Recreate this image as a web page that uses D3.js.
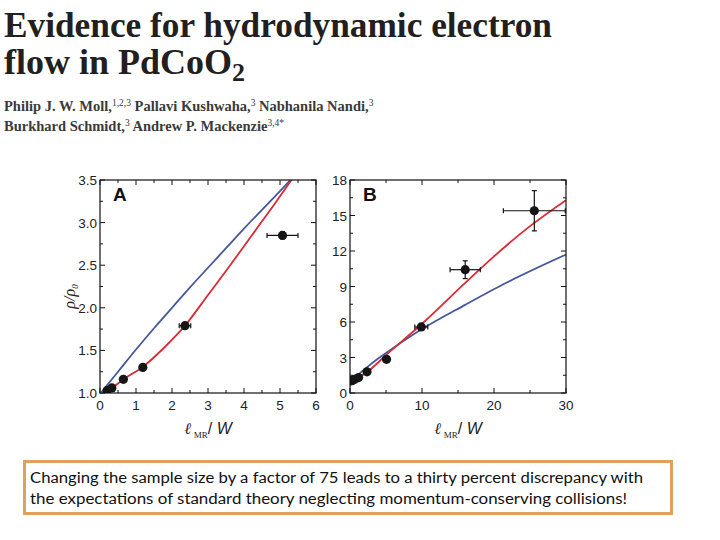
<!DOCTYPE html>
<html><head><meta charset="utf-8">
<script src="https://cdn.jsdelivr.net/npm/d3@7/dist/d3.min.js"></script>
<style>body{margin:0;background:#fff}svg{display:block}</style>
</head><body>
<svg id="c" width="720" height="540"></svg>
<script>
// ---- data ----
const titleLines = ["Evidence for hydrodynamic electron", "flow in PdCoO"];
const authors1 = [["Philip J. W. Moll,", "1,2,3"], [" Pallavi Kushwaha,", "3"], [" Nabhanila Nandi,", "3"]];
const authors2 = [["Burkhard Schmidt,", "3"], [" Andrew P. Mackenzie", "3,4*"]];
const caption = ["Changing the sample size by a factor of 75 leads to a thirty percent discrepancy with",
                 "the expectations of standard theory neglecting momentum-conserving collisions!"];

// measured points (rho/rho0 vs l_MR/W)
const ptX   = [0.20, 0.33, 0.65, 1.19, 2.36, 5.07, 9.90, 16.0, 25.6];
const ptY   = [1.03, 1.06, 1.16, 1.30, 1.79, 2.85, 5.58, 10.42, 15.40];
const ptXerr= [0,    0,    0,    0,    0.16, 0.43, 0.90, 2.10, 4.30];
const ptYerr= [0,    0,    0,    0,    0,    0.04, 0.15, 0.75, 1.70];

// model curves
const redAX  = [0.10, 0.33, 0.65, 1.20, 1.80, 2.36, 3.00, 3.60, 4.20, 4.80, 5.40];
const redAY  = [1.00, 1.06, 1.16, 1.31, 1.54, 1.79, 2.15, 2.49, 2.84, 3.19, 3.55];
const blueAX = [0.02, 0.50, 1.00, 1.50, 2.00, 2.50, 3.00, 3.50, 4.00, 4.50, 5.00, 5.40];
const blueAY = [1.00, 1.25, 1.51, 1.76, 2.00, 2.24, 2.47, 2.70, 2.93, 3.15, 3.37, 3.55];
const redBX  = [0.20, 2.40, 5.00, 10.0, 16.0, 20.0, 25.0, 30.0];
const redBY  = [1.00, 1.78, 3.20, 5.85, 9.30, 11.55, 14.10, 16.30];
const blueBX = [0.05, 2.00, 4.00, 6.00, 10.0, 16.0, 21.5, 30.0];
const blueBY = [1.00, 2.00, 2.95, 3.80, 5.40, 7.45, 9.25, 11.70];

const aXTicks = [0,1,2,3,4,5,6];
const aYTicks = [1.0,1.5,2.0,2.5,3.0,3.5];
const bXTicks = [0,10,20,30];
const bYTicks = [0,3,6,9,12,15,18];

// ---- drawing ----
const svg = d3.select("#c");
svg.append("rect").attr("width",720).attr("height",540).attr("fill","#fff");

// title
svg.append("text").attr("x",4).attr("y",37)
  .attr("font-family","'Liberation Serif','DejaVu Serif',serif").attr("font-weight","bold")
  .attr("font-size",36).attr("fill","#231f20")
  .attr("textLength",548).attr("lengthAdjust","spacingAndGlyphs").text(titleLines[0]);
const t2 = svg.append("text").attr("x",4).attr("y",74)
  .attr("font-family","'Liberation Serif','DejaVu Serif',serif").attr("font-weight","bold")
  .attr("font-size",36).attr("fill","#231f20");
t2.append("tspan").text(titleLines[1]);
t2.append("tspan").attr("dy",7).attr("font-size",26).text("2");

function authorLine(parts, y) {
  const t = svg.append("text").attr("x",4).attr("y",y)
    .attr("font-family","'Liberation Serif','DejaVu Serif',serif").attr("font-weight","bold")
    .attr("font-size",14.5).attr("fill","#3a3a3a");
  parts.forEach((p, i) => {
    t.append("tspan").attr("dy", i === 0 ? 0 : 5).text(p[0]);
    t.append("tspan").attr("dy",-5).attr("font-size",9.5).attr("font-weight","normal").text(p[1]);
  });
  return t;
}
authorLine(authors1, 111);
authorLine(authors2, 131);

function panel(cfg) {
  const x = d3.scaleLinear().domain(cfg.xd).range([cfg.x0, cfg.x1]);
  const y = d3.scaleLinear().domain(cfg.yd).range([cfg.y1, cfg.y0]);
  const g = svg.append("g");
  const clipId = "clip" + cfg.name;
  svg.append("clipPath").attr("id", clipId).append("rect")
    .attr("x",cfg.x0).attr("y",cfg.y0).attr("width",cfg.x1-cfg.x0).attr("height",cfg.y1-cfg.y0);

  // ticks (inward on all four sides), major & minor
  const tk = g.append("g").attr("stroke","#111").attr("stroke-width",1);
  const xMinor = d3.range(cfg.xd[0], cfg.xd[1]+1e-9, cfg.xMinorStep);
  const yMinor = d3.range(cfg.yd[0], cfg.yd[1]+1e-9, cfg.yMinorStep);
  xMinor.forEach(v => {
    const major = cfg.xTicks.some(t => Math.abs(t-v) < 1e-9);
    const L = major ? 5 : 3;
    tk.append("line").attr("x1",x(v)).attr("x2",x(v)).attr("y1",cfg.y1).attr("y2",cfg.y1-L);
    tk.append("line").attr("x1",x(v)).attr("x2",x(v)).attr("y1",cfg.y0).attr("y2",cfg.y0+L);
  });
  yMinor.forEach(v => {
    const major = cfg.yTicks.some(t => Math.abs(t-v) < 1e-9);
    const L = major ? 5 : 3;
    tk.append("line").attr("y1",y(v)).attr("y2",y(v)).attr("x1",cfg.x0).attr("x2",cfg.x0+L);
    tk.append("line").attr("y1",y(v)).attr("y2",y(v)).attr("x1",cfg.x1).attr("x2",cfg.x1-L);
  });

  // tick labels
  const lab = g.append("g").attr("font-family","'Liberation Sans',Arial,sans-serif")
    .attr("font-size",13.5).attr("fill","#222");
  cfg.xTicks.forEach(v => lab.append("text").attr("x",x(v)).attr("y",cfg.y1+17)
    .attr("text-anchor","middle").text(cfg.xFmt(v)));
  cfg.yTicks.forEach(v => lab.append("text").attr("x",cfg.x0-3).attr("y",y(v)+5)
    .attr("text-anchor","end").text(cfg.yFmt(v)));

  // curves
  const line = (xs, ys) => d3.line().x((d,i)=>x(xs[i])).y((d,i)=>y(ys[i])).curve(d3.curveMonotoneX)(xs);
  const cg = g.append("g").attr("clip-path", `url(#${clipId})`).attr("fill","none").attr("stroke-width",1.8);
  cg.append("path").attr("d", line(cfg.blueX, cfg.blueY)).attr("stroke","#44589e");
  cg.append("path").attr("d", line(cfg.redX, cfg.redY)).attr("stroke","#d92a35");

  // points with error bars
  const pg = g.append("g").attr("clip-path", `url(#${clipId})`);
  ptX.forEach((px, i) => {
    if (px > cfg.xd[1]) return;
    const cx = x(px), cy = y(ptY[i]);
    if (ptXerr[i] > 0) {
      const xa = x(px - ptXerr[i]), xb = x(px + ptXerr[i]);
      pg.append("line").attr("x1",xa).attr("x2",xb).attr("y1",cy).attr("y2",cy).attr("stroke","#111").attr("stroke-width",1.2);
      pg.append("line").attr("x1",xa).attr("x2",xa).attr("y1",cy-2.5).attr("y2",cy+2.5).attr("stroke","#111").attr("stroke-width",1.2);
      pg.append("line").attr("x1",xb).attr("x2",xb).attr("y1",cy-2.5).attr("y2",cy+2.5).attr("stroke","#111").attr("stroke-width",1.2);
    }
    if (ptYerr[i] > 0) {
      const ya = y(ptY[i] - ptYerr[i]), yb = y(ptY[i] + ptYerr[i]);
      pg.append("line").attr("x1",cx).attr("x2",cx).attr("y1",ya).attr("y2",yb).attr("stroke","#111").attr("stroke-width",1.2);
      pg.append("line").attr("x1",cx-2.5).attr("x2",cx+2.5).attr("y1",ya).attr("y2",ya).attr("stroke","#111").attr("stroke-width",1.2);
      pg.append("line").attr("x1",cx-2.5).attr("x2",cx+2.5).attr("y1",yb).attr("y2",yb).attr("stroke","#111").attr("stroke-width",1.2);
    }
    pg.append("circle").attr("cx",cx).attr("cy",cy).attr("r",4.6).attr("fill","#151515");
  });

  // frame
  g.append("rect").attr("x",cfg.x0).attr("y",cfg.y0).attr("width",cfg.x1-cfg.x0).attr("height",cfg.y1-cfg.y0)
    .attr("fill","none").attr("stroke","#111").attr("stroke-width",1.2);

  // panel letter
  g.append("text").attr("x",cfg.x0+13).attr("y",cfg.y0+21)
    .attr("font-family","'Liberation Sans',Arial,sans-serif").attr("font-weight","bold")
    .attr("font-size",19).attr("fill","#111").text(cfg.name);

  // x axis label: l_MR / W
  const cx = (cfg.x0 + cfg.x1) / 2;
  const xl = g.append("text").attr("x",cx).attr("y",cfg.y1+41).attr("text-anchor","middle").attr("fill","#222");
  xl.append("tspan").attr("font-family","'DejaVu Serif',serif").attr("font-style","italic").attr("font-size",16).text("ℓ");
  xl.append("tspan").attr("dx",3).attr("dy",4).attr("font-family","'Liberation Serif',serif").attr("font-size",9).text("MR");
  xl.append("tspan").attr("dy",-4).attr("font-family","'Liberation Sans',sans-serif").attr("font-size",16).text("/ ");
  xl.append("tspan").attr("font-family","'Liberation Sans',sans-serif").attr("font-style","italic").attr("font-size",16).text("W");

  if (cfg.yLabel) {
    const yl = g.append("text").attr("transform",`translate(${cfg.x0-25},${(cfg.y0+cfg.y1)/2+10}) rotate(-90)`)
      .attr("text-anchor","middle").attr("font-family","'Liberation Serif',serif").attr("font-style","italic")
      .attr("font-size",16).attr("fill","#222");
    yl.append("tspan").text("ρ/ρ");
    yl.append("tspan").attr("dy",3).attr("font-size",9).text("0");
  }
}

panel({name:"A", x0:100, x1:316, y0:180, y1:393, xd:[0,6], yd:[1,3.5],
  xTicks:aXTicks, yTicks:aYTicks, xMinorStep:0.5, yMinorStep:0.25,
  xFmt:d3.format("d"), yFmt:d3.format(".1f"),
  redX:redAX, redY:redAY, blueX:blueAX, blueY:blueAY, yLabel:true});
panel({name:"B", x0:350, x1:566, y0:180, y1:393, xd:[0,30], yd:[0,18],
  xTicks:bXTicks, yTicks:bYTicks, xMinorStep:5, yMinorStep:1.5,
  xFmt:d3.format("d"), yFmt:d3.format("d"),
  redX:redBX, redY:redBY, blueX:blueBX, blueY:blueBY, yLabel:false});

// caption box
svg.append("rect").attr("x",24.5).attr("y",461.5).attr("width",647).attr("height",52)
  .attr("fill","#fff").attr("stroke","#e0a05e").attr("stroke-width",3);
caption.forEach((s, i) => {
  svg.append("text").attr("x",30).attr("y",483 + i*21)
    .attr("font-family","Lato,'Open Sans',sans-serif").attr("font-size",15.5).attr("fill","#111")
    .attr("textLength", i === 0 ? 613 : 597).attr("lengthAdjust","spacingAndGlyphs").text(s);
});
</script>
</body></html>
